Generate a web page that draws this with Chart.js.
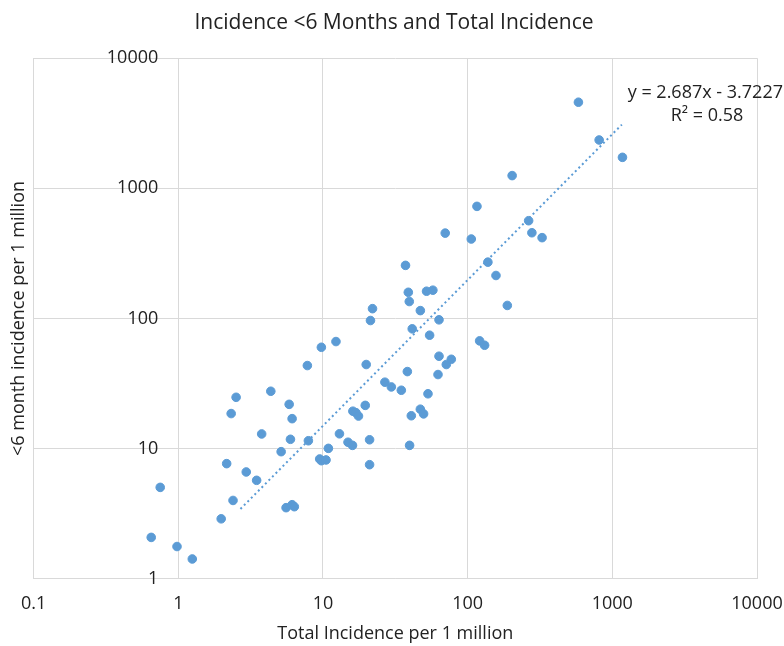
<!DOCTYPE html>
<html>
<head>
<meta charset="utf-8">
<script src="https://cdn.jsdelivr.net/npm/chart.js@4/dist/chart.umd.min.js"></script>
<style>
  html, body { margin: 0; padding: 0; background: #fff; }
  #wrap { width: 784px; height: 646px; }
</style>
</head>
<body>
<div id="wrap"><canvas id="myChart" width="784" height="646"></canvas></div>
<script>
// total incidence per 1 million (x) and <6 month incidence per 1 million (y)
const totalIncidence = [
  0.65, 0.75, 0.98, 1.25, 1.98, 2.39, 2.16, 2.95, 3.48, 3.77,
  2.32, 2.51, 4.36, 5.14, 5.96, 5.84, 6.12, 5.56, 6.12, 6.34,
  7.93, 7.8, 9.75, 12.3, 9.49, 9.75, 10.5, 10.9, 13.0, 14.9,
  16.0, 16.1, 16.9, 17.6, 21.0, 21.0, 19.6, 19.9, 22.0, 21.3,
  26.8, 29.7, 34.8, 38.3, 39.7, 40.8, 47.1, 49.6, 53.2, 62.4,
  63.4, 71.2, 77.1, 54.6, 63.4, 41.4, 47.1, 38.9, 39.5, 52.0,
  57.5, 37.2, 70.0, 106, 116, 121, 131, 138, 157, 188,
  203, 264, 278, 327, 583, 811, 1175
];
const under6Incidence = [
  2.08, 5.04, 1.77, 1.42, 2.89, 4.0, 7.67, 6.62, 5.71, 12.97,
  18.6, 24.8, 27.6, 9.48, 11.8, 21.9, 17.0, 3.52, 3.71, 3.58,
  11.5, 43.5, 60.1, 66.5, 8.33, 8.08, 8.19, 10.05, 13.0, 11.2,
  10.6, 19.4, 18.9, 17.8, 11.7, 7.53, 21.5, 44.3, 119, 96.5,
  32.4, 29.8, 28.1, 39.1, 10.6, 17.9, 20.1, 18.5, 26.4, 37.1,
  51.3, 44.3, 48.6, 74.4, 97.7, 83.3, 115, 159, 135, 162,
  165, 256, 453, 408, 727, 67.3, 62.3, 271, 214, 126,
  1253, 564, 456, 418, 4590, 2353, 1731
];
// dotted trendline end points
const trendX = [2.69, 1164];
const trendY = [3.44, 3090];

const xTicks = [0.1, 1, 10, 100, 1000, 10000];
const yTicks = [1, 10, 100, 1000, 10000];
const trendLabel = ["y = 2.687x - 3.7227", "R\u00B2 = 0.58"];

const blue = "#5B9BD5";
const textColor = "#222222";
const gridColor = "#D9D9D9";
const fontFamily = "'Open Sans', 'Liberation Sans', sans-serif";

const scatterPoints = totalIncidence.map((x, i) => ({ x: x, y: under6Incidence[i] }));
const trendPoints = trendX.map((x, i) => ({ x: x, y: trendY[i] }));

// y tick labels sit next to the x = 1 crossing, like the original sheet
const crossLabels = {
  id: "crossLabels",
  afterDraw(chart) {
    const c = chart.ctx;
    const xs = chart.scales.x;
    const ys = chart.scales.y;
    const left = xs.getPixelForValue(1) - 20;
    c.save();
    c.font = "18px " + fontFamily;
    c.fillStyle = textColor;
    c.textAlign = "right";
    c.textBaseline = "middle";
    yTicks.forEach((v) => {
      c.fillText(String(v), left, ys.getPixelForValue(v));
    });
    // trendline equation
    c.fillText(trendLabel[0], 783, 93);
    c.textAlign = "center";
    c.fillText(trendLabel[1], 707, 116);
    c.restore();
  },
};

const ctx = document.getElementById("myChart").getContext("2d");
new Chart(ctx, {
  type: "scatter",
  data: {
    datasets: [
      {
        label: "Incidence",
        data: scatterPoints,
        backgroundColor: blue,
        borderColor: blue,
        pointRadius: 4.3,
        pointHoverRadius: 4.3,
      },
      {
        label: "Trend",
        type: "line",
        data: trendPoints,
        borderColor: blue,
        borderWidth: 2,
        borderDash: [2, 3],
        pointRadius: 0,
        fill: false,
      },
    ],
  },
  options: {
    responsive: false,
    animation: false,
    layout: { padding: { left: 4, right: 0, top: 0, bottom: 0 } },
    plugins: {
      legend: { display: false },
      tooltip: { enabled: false },
      title: {
        display: true,
        text: "Incidence <6 Months and Total Incidence",
        color: textColor,
        font: { family: fontFamily, size: 21, weight: "normal" },
        padding: { top: 10, bottom: 23 },
      },
    },
    scales: {
      x: {
        type: "logarithmic",
        min: 0.1,
        max: 10000,
        afterBuildTicks: (scale) => {
          scale.ticks = xTicks.map((v) => ({ value: v }));
        },
        afterFit: (scale) => {
          scale.paddingLeft = 0;
          scale.paddingRight = 27;
        },
        ticks: {
          color: textColor,
          font: { family: fontFamily, size: 18 },
          padding: 14,
          maxRotation: 0,
          autoSkip: false,
          callback: (v) => String(v),
        },
        grid: { color: gridColor, drawTicks: false },
        border: { color: gridColor },
        title: {
          display: true,
          text: "Total Incidence per 1 million",
          color: textColor,
          font: { family: fontFamily, size: 18 },
          padding: { top: -5, bottom: 1 },
        },
      },
      y: {
        type: "logarithmic",
        min: 1,
        max: 10000,
        afterBuildTicks: (scale) => {
          scale.ticks = yTicks.map((v) => ({ value: v }));
        },
        ticks: { display: false },
        grid: { color: gridColor, drawTicks: false },
        border: { color: gridColor },
        title: {
          display: true,
          text: "<6 month incidence per 1 million",
          color: textColor,
          font: { family: fontFamily, size: 18 },
          padding: { top: 4, bottom: 4 },
        },
      },
    },
  },
  plugins: [crossLabels],
});
</script>
</body>
</html>
